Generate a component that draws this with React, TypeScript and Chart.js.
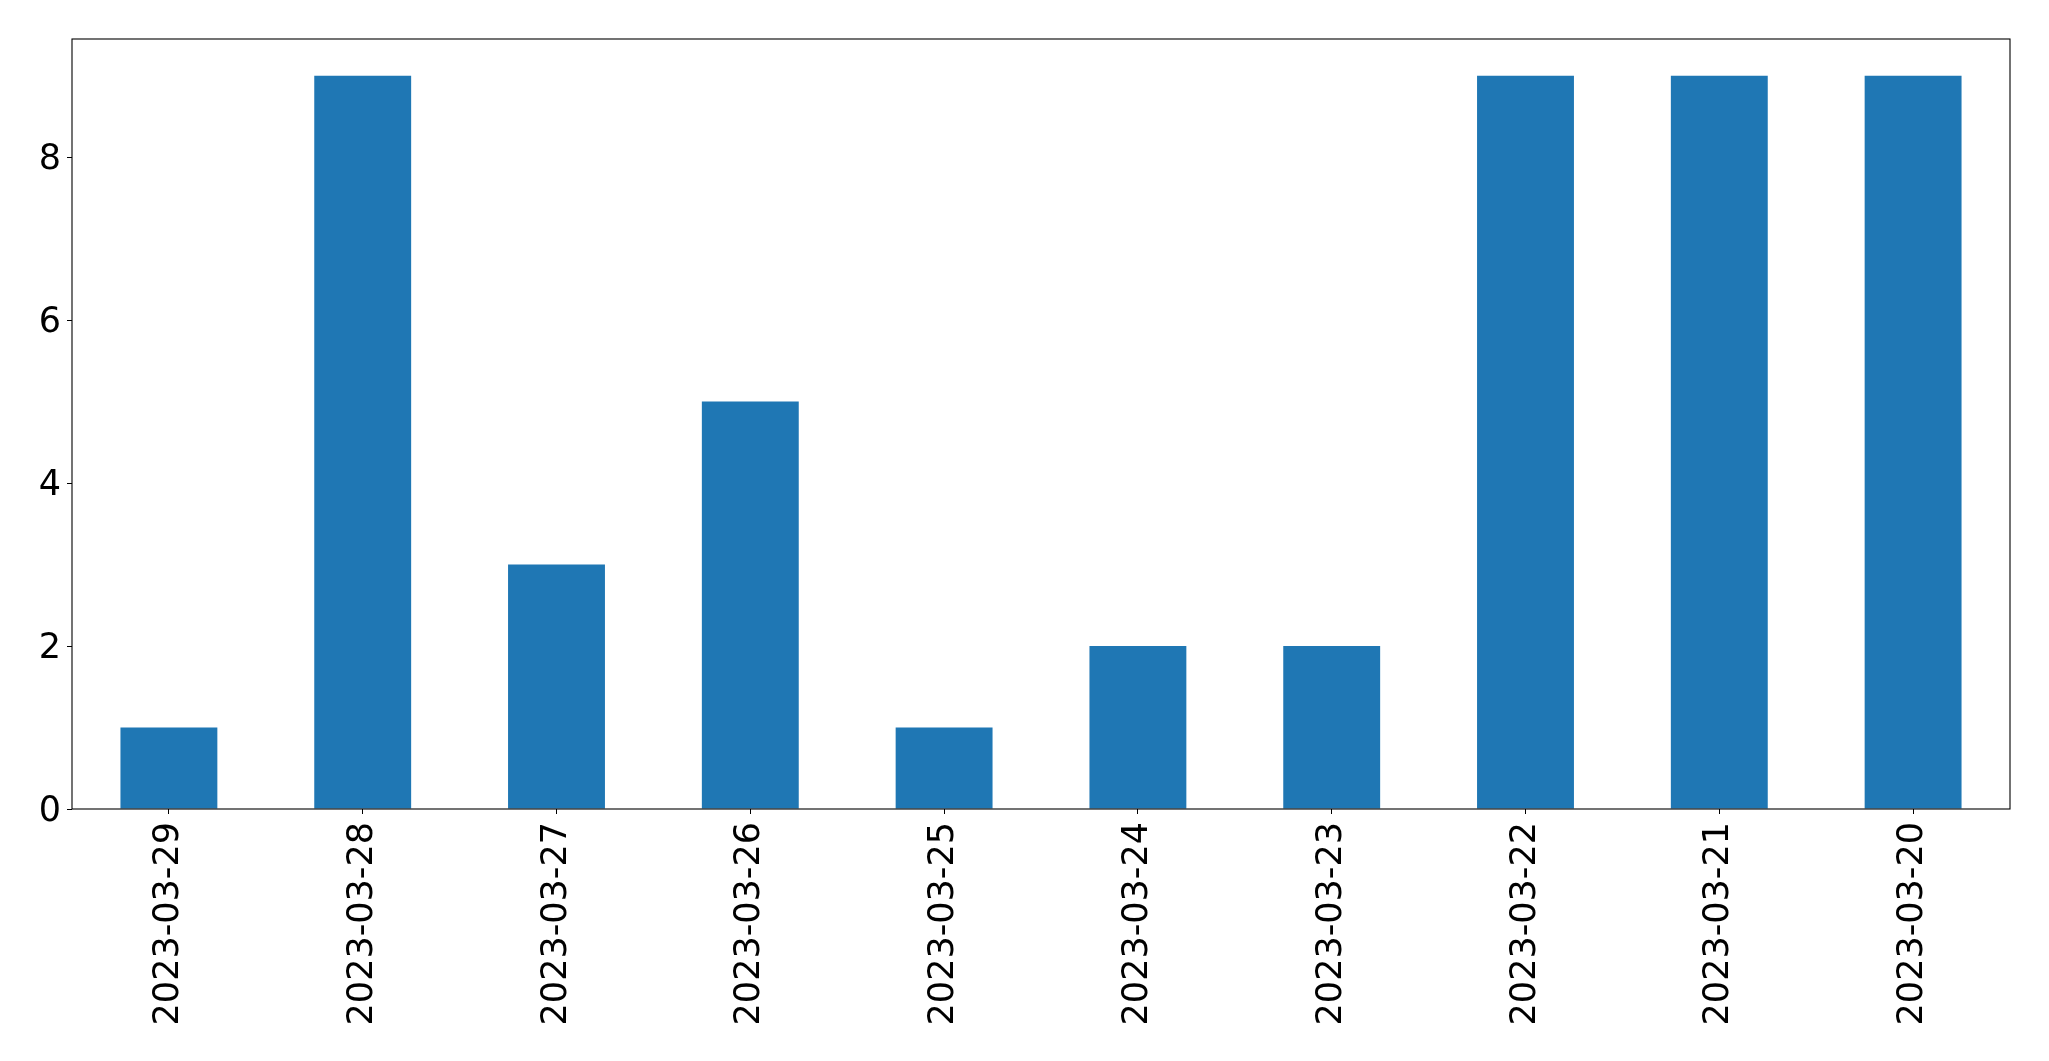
import { useEffect, useRef } from "react";
import { Chart, registerables } from "chart.js";

Chart.register(...registerables);

const dates = [
  "2023-03-29",
  "2023-03-28",
  "2023-03-27",
  "2023-03-26",
  "2023-03-25",
  "2023-03-24",
  "2023-03-23",
  "2023-03-22",
  "2023-03-21",
  "2023-03-20",
];
const counts = [1, 9, 3, 5, 1, 2, 2, 9, 9, 9];
const yTicks = [0, 2, 4, 6, 8];

const W = 2049;
const H = 1061;

// draws the full black frame round the plot area, like matplotlib spines
const frame = {
  id: "frame",
  afterDraw(chart: Chart) {
    const { ctx, chartArea } = chart;
    ctx.save();
    ctx.strokeStyle = "#000";
    ctx.lineWidth = 1.1;
    ctx.strokeRect(chartArea.left, chartArea.top, chartArea.right - chartArea.left, chartArea.bottom - chartArea.top);
    ctx.restore();
  },
};

function BarChart() {
  const canvasRef = useRef<HTMLCanvasElement>(null);
  const chartRef = useRef<Chart | null>(null);

  useEffect(() => {
    if (!canvasRef.current) return;
    if (chartRef.current) chartRef.current.destroy();

    const font = { family: "'DejaVu Sans', sans-serif", size: 35 };

    chartRef.current = new Chart(canvasRef.current, {
      type: "bar",
      data: {
        labels: dates,
        datasets: [
          {
            data: counts,
            backgroundColor: "#1f77b4",
            borderWidth: 0,
            categoryPercentage: 1,
            barPercentage: 0.5,
          },
        ],
      },
      options: {
        responsive: false,
        animation: false,
        devicePixelRatio: 1,
        layout: { padding: { top: 39, right: 39, left: 0, bottom: 0 } },
        plugins: { legend: { display: false }, tooltip: { enabled: false } },
        scales: {
          x: {
            offset: true,
            grid: { drawOnChartArea: false, drawTicks: true, tickLength: 5, color: "#000", offset: false },
            border: { display: false },
            ticks: { color: "#000", font, minRotation: 90, maxRotation: 90, padding: 8, autoSkip: false },
            afterFit: (scale: any) => {
              scale.height = H - 809;
            },
          },
          y: {
            min: 0,
            max: 9.45,
            grid: { drawOnChartArea: false, drawTicks: true, tickLength: 5, color: "#000" },
            border: { display: false },
            ticks: { color: "#000", font, padding: 6, labelOffset: 3 },
            afterBuildTicks: (scale: any) => {
              scale.ticks = yTicks.map((v) => ({ value: v }));
            },
            afterFit: (scale: any) => {
              scale.width = 72;
            },
          },
        },
      },
      plugins: [frame],
    });

    return () => {
      if (chartRef.current) {
        chartRef.current.destroy();
        chartRef.current = null;
      }
    };
  }, []);

  return (
    <div style={{ position: "fixed", left: 0, top: 0, width: W, height: H, background: "#fff" }}>
      <canvas ref={canvasRef} width={W} height={H}></canvas>
    </div>
  );
}

export default function App() {
  return <BarChart />;
}
